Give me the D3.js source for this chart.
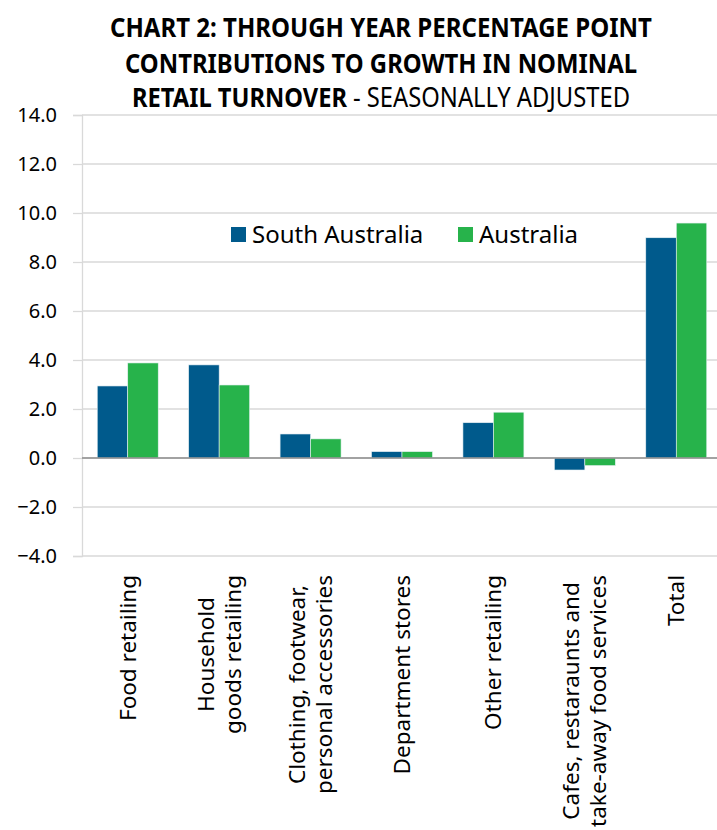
<!DOCTYPE html>
<html>
<head>
<meta charset="utf-8">
<script src="https://cdn.jsdelivr.net/npm/d3@7"></script>
<style>
  body { margin: 0; background: #fff; }
  text { font-family: "Noto Sans", "Open Sans", sans-serif; fill: #000; }
</style>
</head>
<body>
<div id="chart"></div>
<script>
// categories (multi-line labels split with \n)
var categories = [
    "Food retailing",
    "Household\ngoods retailing",
    "Clothing, footwear,\npersonal accessories",
    "Department stores",
    "Other retailing",
    "Cafes, restaraunts and\ntake-away food services",
    "Total"
];
var seriesNames = ["South Australia", "Australia"];
var southAustralia = [2.94, 3.80, 0.98, 0.26, 1.44, -0.49, 8.99];
var australia = [3.88, 2.98, 0.78, 0.26, 1.87, -0.31, 9.59];
var yTicks = [-4, -2, 0, 2, 4, 6, 8, 10, 12, 14];
var colors = ["#005a8c", "#27b34b"];

var W = 717, H = 830;
var margin = { top: 115, left: 82, bottom: 274, right: -5 };
var width = W - margin.left - margin.right,
    height = H - margin.top - margin.bottom;

var svg = d3.select("#chart").append("svg")
    .attr("width", W)
    .attr("height", H);

// title
var title = svg.append("g");
title.append("text")
    .attr("x", 110).attr("y", 37)
    .attr("textLength", 542).attr("lengthAdjust", "spacingAndGlyphs")
    .style("font-size", "26.5px").style("font-weight", "bold")
    .text("CHART 2: THROUGH YEAR PERCENTAGE POINT");
title.append("text")
    .attr("x", 125).attr("y", 73)
    .attr("textLength", 512).attr("lengthAdjust", "spacingAndGlyphs")
    .style("font-size", "26.5px").style("font-weight", "bold")
    .text("CONTRIBUTIONS TO GROWTH IN NOMINAL");
title.append("text")
    .attr("x", 132).attr("y", 107)
    .attr("textLength", 215).attr("lengthAdjust", "spacingAndGlyphs")
    .style("font-size", "26.5px").style("font-weight", "bold")
    .text("RETAIL TURNOVER");
title.append("text")
    .attr("x", 353).attr("y", 107)
    .attr("textLength", 277).attr("lengthAdjust", "spacingAndGlyphs")
    .style("font-size", "26.5px")
    .text("- SEASONALLY ADJUSTED");

var g = svg.append("g")
    .attr("transform", "translate(" + margin.left + "," + margin.top + ")");

var x0 = d3.scaleBand()
    .domain(categories)
    .range([0, width])
    .paddingInner(0.333)
    .paddingOuter(0.1667);

var x1 = d3.scaleBand()
    .domain(seriesNames)
    .range([0, x0.bandwidth()]);

var y = d3.scaleLinear()
    .domain([-4, 14])
    .range([height, 0]);

// gridlines
g.selectAll(".grid")
    .data(yTicks)
    .enter().append("line")
    .attr("x1", 0).attr("x2", width)
    .attr("y1", function (d) { return y(d); })
    .attr("y2", function (d) { return y(d); })
    .attr("stroke", "#d9d9d9")
    .attr("stroke-width", 1.3);

// y axis
var yAxis = g.append("g")
    .call(d3.axisLeft(y).tickValues(yTicks).tickSize(9).tickPadding(16)
        .tickFormat(d3.format(".1f")));
yAxis.select(".domain").attr("stroke", "#d9d9d9").attr("stroke-width", 1.3);
yAxis.selectAll(".tick line").attr("stroke", "#d9d9d9").attr("stroke-width", 1.3);
yAxis.selectAll(".tick text")
    .style("font-family", "'Noto Sans', 'Open Sans', sans-serif")
    .style("font-size", "20px")
    .attr("fill", "#000");

// bars
var rows = categories.map(function (c, i) {
    return { cat: c, values: [southAustralia[i], australia[i]] };
});

var groups = g.selectAll(".cat")
    .data(rows)
    .enter().append("g")
    .attr("transform", function (d) { return "translate(" + x0(d.cat) + ",0)"; });

groups.selectAll("rect")
    .data(function (d) {
        return d.values.map(function (v, j) { return { key: seriesNames[j], v: v, j: j }; });
    })
    .enter().append("rect")
    .attr("x", function (d) { return x1(d.key); })
    .attr("width", x1.bandwidth())
    .attr("y", function (d) { return y(Math.max(0, d.v)); })
    .attr("height", function (d) { return Math.abs(y(d.v) - y(0)); })
    .attr("fill", function (d) { return colors[d.j]; })
    .attr("stroke", "#e8f0f4")
    .attr("stroke-width", 0.6);

// zero line
g.append("line")
    .attr("x1", 0).attr("x2", width)
    .attr("y1", y(0)).attr("y2", y(0))
    .attr("stroke", "#8c8c8c")
    .attr("stroke-width", 1.3);

// x labels, rotated, block ends just below the plot
var labelTop = height + 19;
var lineH = 27;
var labels = g.selectAll(".xlab")
    .data(categories)
    .enter().append("g")
    .attr("transform", function (d) {
        return "translate(" + (x0(d) + x0.bandwidth() / 2) + "," + labelTop + ") rotate(-90)";
    });

labels.each(function (d) {
    var lines = d.split("\n");
    var el = d3.select(this);
    var texts = lines.map(function (ln, k) {
        return el.append("text")
            .attr("y", (k - (lines.length - 1) / 2) * lineH)
            .attr("dy", "0.35em")
            .style("font-size", "22.5px")
            .text(ln);
    });
    var maxW = d3.max(texts, function (t) { return t.node().getComputedTextLength(); });
    texts.forEach(function (t) {
        t.attr("x", -maxW / 2).attr("text-anchor", "middle");
    });
});

// legend
var legend = svg.append("g");
var legX = [231, 458];
seriesNames.forEach(function (name, i) {
    legend.append("rect")
        .attr("x", legX[i]).attr("y", 227)
        .attr("width", 15).attr("height", 15)
        .attr("fill", colors[i]);
    legend.append("text")
        .attr("x", legX[i] + 21).attr("y", 243)
        .style("font-size", "24px")
        .text(name);
});
</script>
</body>
</html>
